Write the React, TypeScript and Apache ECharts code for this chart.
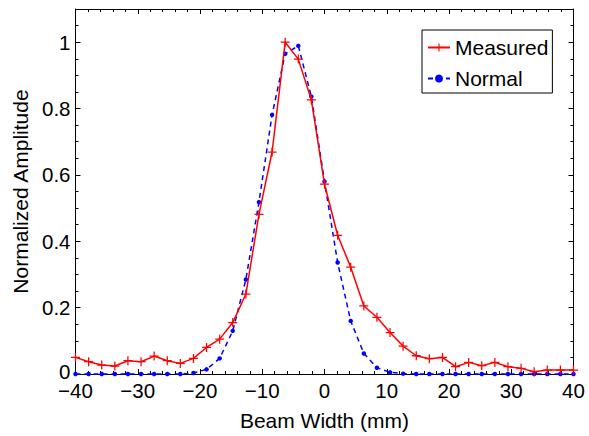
import React, { useEffect, useRef } from "react";
import * as echarts from "echarts";

const beamWidth = [
  -40, -37.89, -35.79, -33.68, -31.58, -29.47, -27.37, -25.26, -23.16, -21.05,
  -18.95, -16.84, -14.74, -12.63, -10.53, -8.42, -6.32, -4.21, -2.11, 0,
  2.11, 4.21, 6.32, 8.42, 10.53, 12.63, 14.74, 16.84, 18.95, 21.05,
  23.16, 25.26, 27.37, 29.47, 31.58, 33.68, 35.79, 37.89, 40,
];

const measured = [
  0.05, 0.037, 0.027, 0.024, 0.04, 0.037, 0.054, 0.04, 0.032, 0.047,
  0.08, 0.105, 0.155, 0.241, 0.481, 0.669, 1.0, 0.949, 0.826, 0.572,
  0.418, 0.322, 0.205, 0.171, 0.125, 0.084, 0.055, 0.046, 0.05, 0.022,
  0.035, 0.025, 0.035, 0.022, 0.017, 0.007, 0.012, 0.012, 0.012,
];

const normal = [
  0, 0, 0, 0, 0, 0, 0, 0, 0, 0.003,
  0.014, 0.047, 0.13, 0.285, 0.518, 0.781, 0.965, 0.989, 0.836, 0.58,
  0.336, 0.16, 0.062, 0.019, 0.005, 0.001, 0, 0, 0, 0,
  0, 0, 0, 0, 0, 0, 0, 0, 0,
];

const xTitle = "Beam Width (mm)";
const yTitle = "Normalized Amplitude";

const FONT = "'Liberation Sans', Arial, Helvetica, sans-serif";
const CROSS = "path://M4.3,0H5.7V4.3H10V5.7H5.7V10H4.3V5.7H0V4.3H4.3Z";

export default function App() {
  const ref = useRef<HTMLDivElement>(null);
  useEffect(() => {
    if (!ref.current) return;
    const chart = echarts.init(ref.current, undefined, { renderer: "svg" });
    const tickCommon = {
      axisLine: { show: true, onZero: false, lineStyle: { color: "#000", width: 1 } },
      axisTick: { show: true, inside: true, length: 5, lineStyle: { color: "#000" } },
      minorTick: { show: true, splitNumber: 5, length: 3, lineStyle: { color: "#000" } },
      splitLine: { show: false },
    };
    const fmtX = (v: number) => String(v).replace("-", "\u2212");
    const fmtY = (v: number) => {
      const r = Math.round(v * 10);
      if (Math.abs(v * 10 - r) > 1e-6 || r % 2 !== 0) return "";
      if (r === 0) return "{z|0}";
      return String(r / 10);
    };
    chart.setOption({
      animation: false,
      backgroundColor: "#fff",
      textStyle: { fontFamily: FONT },
      grid: { left: 75.5, right: 15.5, top: 9, bottom: 62, containLabel: false },
      xAxis: [
        {
          type: "value",
          min: -40,
          max: 40,
          interval: 10,
          position: "bottom",
          ...tickCommon,
          axisLabel: { fontSize: 20.5, color: "#000", margin: 7, fontFamily: FONT, formatter: fmtX, lineHeight: 18 },
          name: xTitle,
          nameLocation: "middle",
          nameGap: 36,
          nameTextStyle: { fontSize: 21, color: "#000", fontFamily: FONT },
        },
        {
          type: "value",
          min: -40,
          max: 40,
          interval: 10,
          position: "top",
          ...tickCommon,
          axisLabel: { show: false },
        },
      ],
      yAxis: [
        {
          type: "value",
          min: 0,
          max: 1.1,
          interval: 0.2,
          position: "left",
          ...tickCommon,
          minorTick: { show: true, splitNumber: 4, length: 3, lineStyle: { color: "#000" } },
          axisLabel: {
            fontSize: 20.5,
            color: "#000",
            margin: 5,
            fontFamily: FONT,
            formatter: fmtY,
            showMaxLabel: false,
            lineHeight: 16,
            rich: { z: { fontSize: 20.5, fontFamily: FONT, color: "#000", lineHeight: 16, padding: [0, 0, 5, 0] } },
          },
          name: yTitle,
          nameLocation: "middle",
          nameGap: 44,
          nameTextStyle: { fontSize: 21, color: "#000", fontFamily: FONT },
        },
        {
          type: "value",
          min: 0,
          max: 1.1,
          interval: 0.2,
          position: "right",
          ...tickCommon,
          minorTick: { show: true, splitNumber: 4, length: 3, lineStyle: { color: "#000" } },
          axisLabel: { show: false },
        },
      ],
      legend: {
        orient: "vertical",
        left: 422,
        top: 30,
        data: ["Measured", "Normal"],
        backgroundColor: "#fff",
        borderColor: "#000",
        borderWidth: 1,
        borderRadius: 0,
        padding: [7, 4, 4, 5],
        itemGap: 10,
        itemWidth: 22,
        itemHeight: 10,
        textStyle: { fontSize: 21, color: "#000", fontFamily: FONT, lineHeight: 21 },
      },
      series: [
        {
          name: "Normal",
          type: "line",
          data: beamWidth.map((x, i) => [x, normal[i]]),
          symbol: "circle",
          symbolSize: 4.5,
          showAllSymbol: true,
          itemStyle: { color: "#0000ff", borderWidth: 0 },
          lineStyle: { color: "#0000ff", width: 1.5, type: [5, 4] },
          clip: false,
          z: 2,
        },
        {
          name: "Measured",
          type: "line",
          data: beamWidth.map((x, i) => [x, measured[i]]),
          symbol: CROSS,
          symbolSize: 9,
          showAllSymbol: true,
          itemStyle: { color: "#ff0000", borderWidth: 0 },
          lineStyle: { color: "#ff0000", width: 1.5 },
          clip: false,
          z: 3,
        },
      ],
    });
    return () => chart.dispose();
  }, []);
  return <div ref={ref} style={{ width: 589, height: 436, position: "absolute", left: 0, top: 0 }} />;
}
